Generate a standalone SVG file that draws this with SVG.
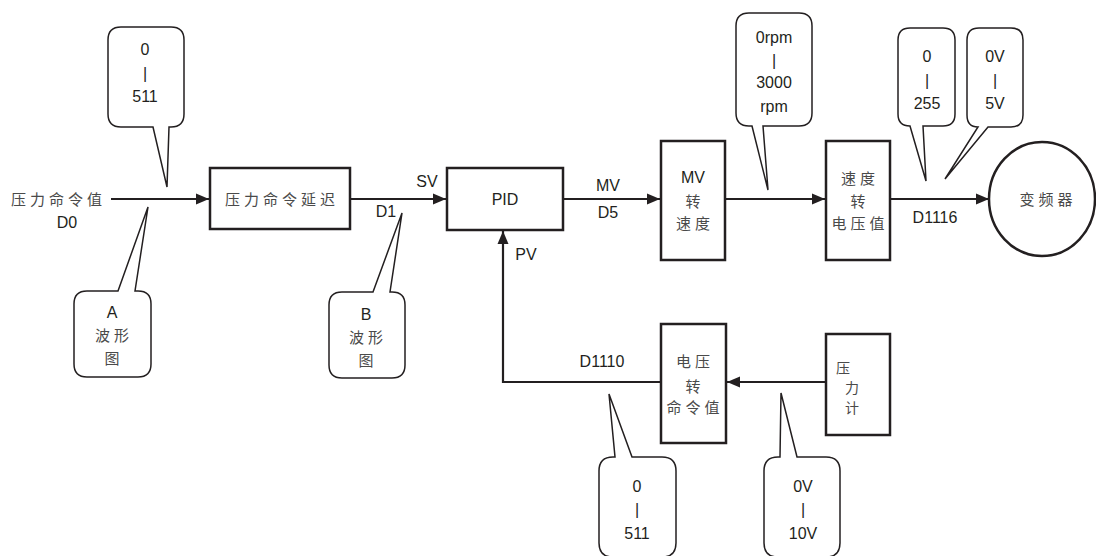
<svg xmlns="http://www.w3.org/2000/svg" width="1096" height="556" viewBox="0 0 1096 556">
<style>
.box{fill:#fff;stroke:#231f20;stroke-width:2.5}
.co{fill:#fff;stroke:#231f20;stroke-width:1.5;stroke-linejoin:miter}
.ln{fill:none;stroke:#231f20;stroke-width:2.2}
.t{font-family:"Liberation Sans",Arial,sans-serif;font-size:16px;fill:#231f20;text-anchor:middle}
.c{font-family:"Noto Sans CJK SC","Noto Sans",sans-serif;font-size:15px;fill:#4a4a4a;text-anchor:middle;letter-spacing:4px}
.cl{font-family:"Noto Sans CJK SC","Noto Sans",sans-serif;font-size:15px;fill:#4a4a4a;letter-spacing:4px}
.cs{font-family:"Noto Sans CJK SC","Noto Sans",sans-serif;font-size:14px;fill:#4a4a4a;text-anchor:middle}
</style>
<defs>
<marker id="ah" markerWidth="14" markerHeight="12" refX="13" refY="6" orient="auto" markerUnits="userSpaceOnUse">
<path d="M0,0.5 L13,6 L0,11.5 Z" fill="#231f20"/>
</marker>
</defs>
<rect width="1096" height="556" fill="#fff"/>
<g id="connectors">
<path class="ln" d="M111,199 H209" marker-end="url(#ah)"/>
<path class="ln" d="M350,199 H446" marker-end="url(#ah)"/>
<path class="ln" d="M563,199 H660" marker-end="url(#ah)"/>
<path class="ln" d="M725,199 H825" marker-end="url(#ah)"/>
<path class="ln" d="M890,199 H989" marker-end="url(#ah)"/>
<path class="ln" d="M825,382 H727" marker-end="url(#ah)"/>
<path class="ln" d="M661,382 H503 V231" marker-end="url(#ah)"/>
</g>
<g id="input-label">
<text class="cl" x="11" y="205">压力命令值</text>
<text class="t" x="67" y="228">D0</text>
</g>
<g id="delay">
<rect class="box" x="210" y="168" width="140" height="61"/>
<text class="c" x="282" y="205">压力命令延迟</text>
</g>
<g id="sv-labels">
<text class="t" x="427" y="187">SV</text>
<text class="t" x="386" y="217">D1</text>
</g>
<g id="pid">
<rect class="box" x="447" y="168" width="116" height="62"/>
<text class="t" x="505" y="205">PID</text>
<text class="t" x="526" y="260">PV</text>
</g>
<g id="mv-labels">
<text class="t" x="608" y="191">MV</text>
<text class="t" x="608" y="218">D5</text>
</g>
<g id="mv-speed">
<rect class="box" x="661" y="141" width="64" height="119"/>
<text class="t" x="693" y="183">MV</text>
<text class="c" x="695" y="207">转</text>
<text class="c" x="695" y="229">速度</text>
</g>
<g id="speed-volt">
<rect class="box" x="826" y="141" width="64" height="119"/>
<text class="c" x="860" y="184">速度</text>
<text class="c" x="860" y="207">转</text>
<text class="c" x="860" y="229">电压值</text>
</g>
<g id="d1116">
<text class="t" x="935" y="223">D1116</text>
</g>
<g id="inverter">
<ellipse class="box" cx="1042" cy="199" rx="53" ry="57"/>
<text class="c" x="1048" y="205">变频器</text>
</g>
<g id="volt-cmd">
<rect class="box" x="661" y="324" width="65" height="119"/>
<text class="c" x="695" y="367">电压</text>
<text class="c" x="695" y="392">转</text>
<text class="c" x="695" y="413">命令值</text>
<text class="t" x="602" y="367">D1110</text>
</g>
<g id="gauge">
<rect class="box" x="826" y="334" width="64" height="101"/>
<text class="cs" x="843" y="373">压</text>
<text class="cs" x="852" y="393">力</text>
<text class="cs" x="852" y="413">计</text>
</g>
<g id="callout-0-511-top">
<path class="co" d="M121,27 H171 Q184,27 184,40 V114 Q184,127 171,127 H169 L167,187 L153,127 H121 Q108,127 108,114 V40 Q108,27 121,27 Z"/>
<text class="t" x="145" y="55">0</text>
<text class="t" x="145" y="79">|</text>
<text class="t" x="145" y="102">511</text>
</g>
<g id="callout-a">
<path class="co" d="M87,291 H118 L148,207 L135,291 H138 Q151,291 151,304 V364 Q151,377 138,377 H87 Q74,377 74,364 V304 Q74,291 87,291 Z"/>
<text class="t" x="112" y="318">A</text>
<text class="c" x="114" y="341">波形</text>
<text class="c" x="114" y="364">图</text>
</g>
<g id="callout-b">
<path class="co" d="M342,292 H373 L402,213 L390,292 H392 Q405,292 405,305 V365 Q405,378 392,378 H342 Q329,378 329,365 V305 Q329,292 342,292 Z"/>
<text class="t" x="366" y="320">B</text>
<text class="c" x="368" y="343">波形</text>
<text class="c" x="368" y="366">图</text>
</g>
<g id="callout-rpm">
<path class="co" d="M749,13 H799 Q812,13 812,26 V113 Q812,126 799,126 H763 L768,190 L752,126 H749 Q736,126 736,113 V26 Q736,13 749,13 Z"/>
<text class="t" x="774" y="43">0rpm</text>
<text class="t" x="774" y="66">|</text>
<text class="t" x="774" y="88">3000</text>
<text class="t" x="774" y="112">rpm</text>
</g>
<g id="callout-255">
<path class="co" d="M910,28 H943 Q955,28 955,40 V114 Q955,126 943,126 H923 L926,181 L910,126 Q898,126 898,114 V40 Q898,28 910,28 Z"/>
<text class="t" x="927" y="62">0</text>
<text class="t" x="927" y="86">|</text>
<text class="t" x="927" y="109">255</text>
</g>
<g id="callout-5v">
<path class="co" d="M979,28 H1011 Q1023,28 1023,40 V115 Q1023,127 1011,127 H988 L945,179 L978,127 Q967,127 967,115 V40 Q967,28 979,28 Z"/>
<text class="t" x="995" y="62">0V</text>
<text class="t" x="995" y="86">|</text>
<text class="t" x="995" y="109">5V</text>
</g>
<g id="callout-0-511-bottom">
<path class="co" d="M613,457 H615 L609,394 L632,457 H662 Q676,457 676,471 V543 Q676,557 662,557 H613 Q599,557 599,543 V471 Q599,457 613,457 Z"/>
<text class="t" x="637" y="492">0</text>
<text class="t" x="637" y="515">|</text>
<text class="t" x="637" y="539">511</text>
</g>
<g id="callout-10v">
<path class="co" d="M778,457 H780 L781,393 L797,457 H826 Q840,457 840,471 V543 Q840,557 826,557 H778 Q764,557 764,543 V471 Q764,457 778,457 Z"/>
<text class="t" x="803" y="492">0V</text>
<text class="t" x="803" y="515">|</text>
<text class="t" x="803" y="539">10V</text>
</g>
</svg>
